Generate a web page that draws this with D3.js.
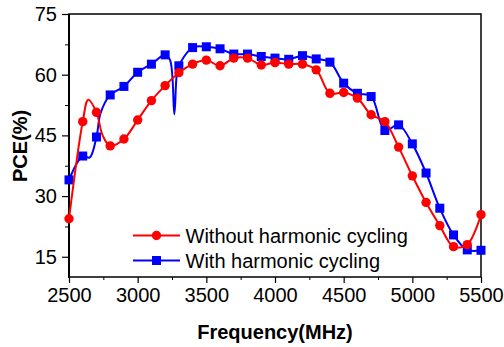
<!DOCTYPE html>
<meta charset="utf-8">
<style>
body { margin: 0; background: #fff; }
svg { display: block; font-family: 'Liberation Sans', Arial, sans-serif; }
.axis path, .axis line { stroke: #000; }
.axis text { font-size: 20px; fill: #000; }
.frame { fill: none; stroke: #000; stroke-width: 1.5px; }
.title { font-size: 20px; font-weight: bold; }
.legend text { font-size: 20px; }
</style>
<body>
<script src="https://cdnjs.cloudflare.com/ajax/libs/d3/7.8.5/d3.min.js"></script>
<script>

// marker data (every 100 MHz)
var freq = [2500,2600,2700,2800,2900,3000,3100,3200,3300,3400,3500,3600,3700,3800,3900,4000,
            4100,4200,4300,4400,4500,4600,4700,4800,4900,5000,5100,5200,5300,5400,5500];
var without = [24.4,48.4,50.7,42.4,44.1,48.8,53.6,57.3,60.5,62.6,63.6,62.2,64.1,64.1,62.4,63.0,
               62.6,62.6,61.2,55.4,55.6,54.2,50.1,48.4,42.1,35.0,28.4,22.7,17.5,18.0,25.4];
var withH = [34.0,39.9,44.6,55.0,57.1,60.6,62.6,64.9,62.2,66.7,66.9,66.4,65.1,65.1,64.5,64.1,
             63.8,64.7,63.9,63.1,57.9,55.4,54.6,46.2,47.6,42.9,35.7,27.0,20.4,16.7,16.6];

// extra line points without markers
var withoutExtraF = [2640, 2745];
var withoutExtraV = [53.8, 45.0];
var withExtraF = [2650, 2730, 3236, 3267, 3284];
var withExtraV = [39.5, 50.5, 63.6, 50.2, 59.8];

var xTicks = [2500,3000,3500,4000,4500,5000,5500];
var yTicks = [15,30,45,60,75];
var seriesNames = ["Without harmonic cycling", "With harmonic cycling"];

var W = 504, H = 347;
var m = {left: 69, right: 23, top: 14, bottom: 70};

var svg = d3.select("body").append("svg").attr("width", W).attr("height", H);

var x = d3.scaleLinear().domain([2500, 5500]).range([m.left, W - m.right]);
var y = d3.scaleLinear().domain([10, 75]).range([H - m.bottom, m.top]);

function lineData(f, v, ef, ev) {
    var pts = f.map(function(d, i) { return [d, v[i]]; });
    ef.forEach(function(d, i) { pts.push([d, ev[i]]); });
    return pts.sort(function(a, b) { return a[0] - b[0]; });
}

// minor ticks
svg.append("g").attr("class", "axis")
    .attr("transform", "translate(0," + (H - m.bottom) + ")")
    .call(d3.axisBottom(x).tickValues(d3.range(2750, 5500, 500)).tickSize(3).tickFormat(""))
    .call(function(g) { g.select(".domain").remove(); });
svg.append("g").attr("class", "axis")
    .attr("transform", "translate(" + m.left + ",0)")
    .call(d3.axisLeft(y).tickValues([22.5,37.5,52.5,67.5]).tickSize(4).tickFormat(""))
    .call(function(g) { g.select(".domain").remove(); });

var xa = svg.append("g").attr("class", "axis")
    .attr("transform", "translate(0," + (H - m.bottom) + ")")
    .call(d3.axisBottom(x).tickValues(xTicks).tickSize(6).tickPadding(5).tickFormat(d3.format("d")));
xa.select(".domain").remove();
xa.selectAll("line").attr("stroke-width", 1.2);

var ya = svg.append("g").attr("class", "axis")
    .attr("transform", "translate(" + m.left + ",0)")
    .call(d3.axisLeft(y).tickValues(yTicks).tickSize(7).tickPadding(5));
ya.select(".domain").remove();
ya.selectAll("line").attr("stroke-width", 1.2);

svg.append("rect").attr("class", "frame")
    .attr("x", m.left).attr("y", m.top)
    .attr("width", W - m.right - m.left).attr("height", H - m.bottom - m.top);
svg.append("line")
    .attr("x1", m.left).attr("x2", m.left).attr("y1", m.top).attr("y2", H - m.bottom + 1)
    .attr("stroke", "#000").attr("stroke-width", 2);

var line = d3.line()
    .x(function(d) { return x(d[0]); })
    .y(function(d) { return y(d[1]); })
    .curve(d3.curveCatmullRom.alpha(0.5));

var series = [
    {name: seriesNames[0], color: "#ff0000", shape: "circle",
     line: lineData(freq, without, withoutExtraF, withoutExtraV), vals: without},
    {name: seriesNames[1], color: "#0000ff", shape: "square",
     line: lineData(freq, withH, withExtraF, withExtraV), vals: withH}
];

function marker(g, s, cx, cy) {
    if (s.shape === "circle") {
        g.append("circle").attr("cx", cx).attr("cy", cy).attr("r", 4.7).attr("fill", s.color);
    } else {
        g.append("rect").attr("x", cx - 4.5).attr("y", cy - 4.5)
            .attr("width", 9).attr("height", 9).attr("fill", s.color);
    }
}

// draw blue first so red sits on top
[series[1], series[0]].forEach(function(s) {
    var g = svg.append("g");
    g.append("path").attr("d", line(s.line))
        .attr("fill", "none").attr("stroke", s.color).attr("stroke-width", 2);
    freq.forEach(function(f, i) { marker(g, s, x(f), y(s.vals[i])); });
});

// legend
var lg = svg.append("g").attr("class", "legend");
series.forEach(function(s, i) {
    var ly = 235.5 + i * 25;
    lg.append("line").attr("x1", 133).attr("x2", 180).attr("y1", ly).attr("y2", ly)
        .attr("stroke", s.color).attr("stroke-width", 2);
    marker(lg, s, 156.5, ly);
    lg.append("text").attr("x", 185.5).attr("y", ly).attr("dy", "0.36em").text(s.name);
});

// axis titles
svg.append("text").attr("class", "title")
    .attr("x", (m.left + W - m.right) / 2).attr("y", 339)
    .attr("text-anchor", "middle").text("Frequency(MHz)");
svg.append("text").attr("class", "title")
    .attr("transform", "translate(27," + 146 + ") rotate(-90)")
    .attr("text-anchor", "middle").text("PCE(%)");

</script>
</body>
